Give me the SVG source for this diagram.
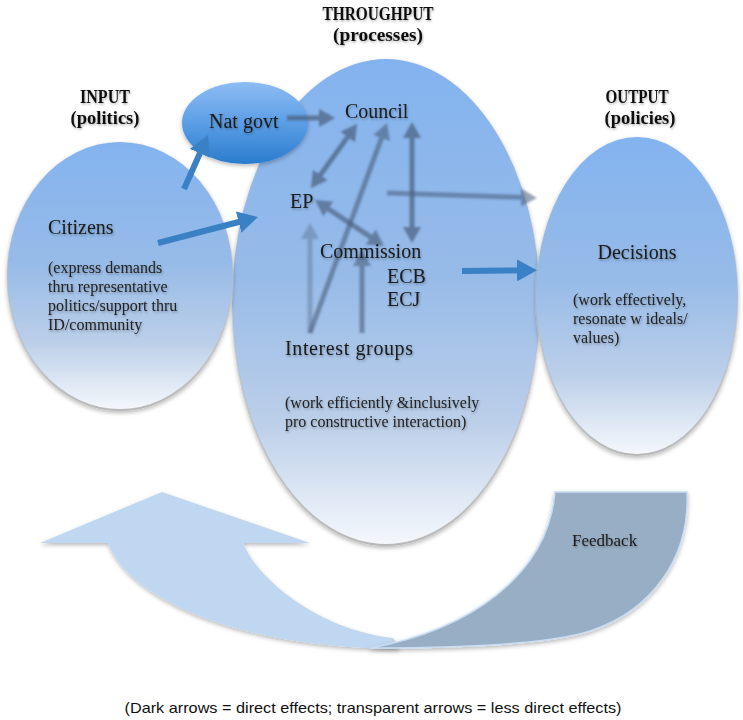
<svg xmlns="http://www.w3.org/2000/svg" width="743" height="720" viewBox="0 0 743 720">
<defs>
  <linearGradient id="gBig" x1="0" y1="0" x2="0" y2="1">
    <stop offset="0" stop-color="#83b3ef"/>
    <stop offset="0.45" stop-color="#97bbe8"/>
    <stop offset="0.75" stop-color="#bccfe9"/>
    <stop offset="1" stop-color="#f5f8fc"/>
  </linearGradient>
  <linearGradient id="gEdge" x1="0" y1="0" x2="0" y2="1">
    <stop offset="0" stop-color="#bcbcbc" stop-opacity="0"/>
    <stop offset="0.5" stop-color="#bcbcbc" stop-opacity="0.3"/>
    <stop offset="1" stop-color="#b8b8b8" stop-opacity="1"/>
  </linearGradient>
  <linearGradient id="gNat" x1="0" y1="0" x2="0" y2="1">
    <stop offset="0" stop-color="#8dbcf3"/>
    <stop offset="0.5" stop-color="#5c9ee6"/>
    <stop offset="1" stop-color="#2a7ccd"/>
  </linearGradient>
  <filter id="shadow" x="-10%" y="-10%" width="120%" height="125%">
    <feDropShadow dx="0" dy="2" stdDeviation="2" flood-color="#000" flood-opacity="0.28"/>
  </filter>
  <filter id="tshadow" x="-5%" y="-20%" width="110%" height="150%">
    <feDropShadow dx="0.8" dy="1.5" stdDeviation="1.2" flood-color="#000" flood-opacity="0.3"/>
  </filter>
  <filter id="blur" x="-20%" y="-20%" width="140%" height="140%">
    <feGaussianBlur stdDeviation="0.9"/>
  </filter>
  <marker id="hg" viewBox="0 0 16 18" refX="11" refY="9" markerWidth="16" markerHeight="18" markerUnits="userSpaceOnUse" orient="auto-start-reverse">
    <path d="M0,0 L16,9 L0,18 Z" fill="#4a5e7c"/>
  </marker>
  <marker id="hb" viewBox="0 0 20 22" refX="14" refY="11" markerWidth="20" markerHeight="22" markerUnits="userSpaceOnUse" orient="auto">
    <path d="M0,0 L20,11 L0,22 Z" fill="#3a80c4"/>
  </marker>
</defs>
<style>
  .big { fill: url(#gBig); stroke: url(#gEdge); stroke-width: 2; }
  .title { font-family: "Liberation Serif", serif; font-weight: bold; font-size: 18px; fill: #111; text-anchor: middle; }
  .lab { font-family: "Liberation Serif", serif; font-size: 20px; fill: #1a1a1a; }
  .sub { font-family: "Liberation Serif", serif; font-size: 16px; fill: #222; }
  .ga { stroke: #4a5e7c; stroke-width: 5; fill: none; }
  .ba { stroke: #3a80c4; stroke-width: 6; fill: none; }
  .cap { font-family: "Liberation Sans", sans-serif; font-size: 15px; fill: #111; text-anchor: middle; }
</style>

<g id="titles" filter="url(#tshadow)">
  <text class="title" x="378" y="20" textLength="111" lengthAdjust="spacingAndGlyphs">THROUGHPUT</text>
  <text class="title" x="378" y="41" textLength="90" lengthAdjust="spacingAndGlyphs">(processes)</text>
  <text class="title" x="105" y="103" textLength="50" lengthAdjust="spacingAndGlyphs">INPUT</text>
  <text class="title" x="105" y="124" textLength="69" lengthAdjust="spacingAndGlyphs">(politics)</text>
  <text class="title" x="637" y="103" textLength="63" lengthAdjust="spacingAndGlyphs">OUTPUT</text>
  <text class="title" x="640" y="124" textLength="71" lengthAdjust="spacingAndGlyphs">(policies)</text>
</g>

<g id="feedback">
  <path d="M40,543 L162,492 L310,543 L243,543 C258,580 320,630 393,638 L400,649 C240,648 130,600 108,543 Z" fill="#bfd7f0" filter="url(#shadow)"/>
  <path d="M555,492 L687,492 C690,560 650,610 593,630 C550,645 450,648 370,648 C470,630 548,575 555,492 Z" fill="#98aec5" stroke="#c8ddf3" stroke-width="1.5" filter="url(#shadow)"/>
  <text x="572" y="546" font-family="Liberation Serif, serif" font-size="17" fill="#1a1a1a" filter="url(#tshadow)">Feedback</text>
</g>

<g id="throughput">
  <ellipse class="big" cx="386" cy="302" rx="154" ry="243" filter="url(#shadow)"/>
</g>
<g id="input">
  <ellipse class="big" cx="120" cy="276" rx="113" ry="134" filter="url(#shadow)"/>
</g>
<g id="output">
  <ellipse class="big" cx="637" cy="296" rx="101" ry="159" filter="url(#shadow)"/>
</g>
<g id="natgovt">
  <ellipse cx="245" cy="123" rx="63" ry="41" fill="url(#gNat)" filter="url(#shadow)"/>
</g>

<g id="connectors">
  <g filter="url(#blur)">
    <g opacity="0.7">
      <line class="ga" x1="287" y1="118" x2="330" y2="118" marker-end="url(#hg)"/>
    </g>
    <g opacity="0.7">
      <line class="ga" x1="313.9" y1="183.9" x2="354.1" y2="128.1" marker-start="url(#hg)" marker-end="url(#hg)"/>
    </g>
    <g opacity="0.6">
      <line class="ga" x1="310" y1="333" x2="385.3" y2="127.7" marker-end="url(#hg)"/>
    </g>
    <g opacity="0.7">
      <line class="ga" x1="412" y1="127" x2="412" y2="238" marker-start="url(#hg)" marker-end="url(#hg)"/>
    </g>
    <g opacity="0.65">
      <line class="ga" x1="319.2" y1="202.8" x2="379.8" y2="243.2" marker-start="url(#hg)" marker-end="url(#hg)"/>
    </g>
    <g opacity="0.35">
      <line class="ga" x1="310" y1="333" x2="310" y2="228" marker-end="url(#hg)"/>
    </g>
    <g opacity="0.6">
      <line class="ga" x1="362" y1="333" x2="362" y2="255" marker-end="url(#hg)"/>
    </g>
    <g opacity="0.55">
      <line class="ga" x1="387" y1="193" x2="532" y2="197.8" marker-end="url(#hg)"/>
    </g>
  </g>
  <line class="ba" x1="184" y1="189" x2="205.6" y2="140.5" marker-end="url(#hb)"/>
  <line class="ba" x1="158" y1="243" x2="252.2" y2="218.5" marker-end="url(#hb)"/>
  <line class="ba" x1="462" y1="271" x2="531" y2="270.2" marker-end="url(#hb)"/>
</g>

<g id="labels" filter="url(#tshadow)">
  <text class="lab" x="209" y="128">Nat govt</text>
  <text class="lab" x="345" y="118">Council</text>
  <text class="lab" x="290" y="208">EP</text>
  <text class="lab" x="320" y="258">Commission</text>
  <text class="lab" x="387" y="283">ECB</text>
  <text class="lab" x="387" y="306">ECJ</text>
  <text class="lab" x="285" y="355" textLength="128">Interest groups</text>
  <text class="lab" x="48" y="234">Citizens</text>
  <text class="sub" x="48" y="273">(express demands</text>
  <text class="sub" x="48" y="292">thru representative</text>
  <text class="sub" x="48" y="311">politics/support thru</text>
  <text class="sub" x="48" y="330">ID/community</text>
  <text class="sub" x="285" y="408">(work efficiently &amp;inclusively</text>
  <text class="sub" x="285" y="427">pro constructive interaction)</text>
  <text class="lab" x="637" y="259" text-anchor="middle">Decisions</text>
  <text class="sub" x="573" y="305">(work effectively,</text>
  <text class="sub" x="573" y="324">resonate w ideals/</text>
  <text class="sub" x="573" y="343">values)</text>
</g>

<g id="caption">
  <text class="cap" x="373" y="713" textLength="497" lengthAdjust="spacingAndGlyphs">(Dark arrows = direct effects; transparent arrows = less direct effects)</text>
</g>
</svg>
